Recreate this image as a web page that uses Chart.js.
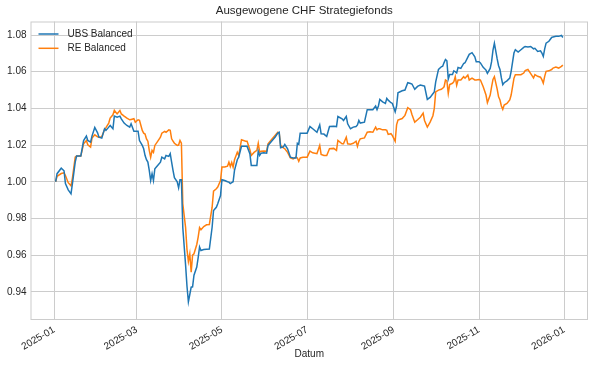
<!DOCTYPE html>
<html>
<head>
<meta charset="utf-8">
<script src="https://cdn.jsdelivr.net/npm/chart.js@4.4.1/dist/chart.umd.min.js"></script>
<style>
  html, body { margin: 0; padding: 0; background: #fff; }
  #wrap { width: 595px; height: 365px; }
</style>
</head>
<body>
<div id="wrap"><canvas id="fondsChart"></canvas></div>
<script>
// trading days, counted in days since 2025-01-01
const days = [
  1,2,5,7,8,10,12,13,15,16, 19,21,23,24,26,27,29,31,32,34,
  36,37,39,40,42,43,45,47,48,50, 52,54,55,57,58,60,61,63,64,65,
  66,67,68,69,70,71,72,74,76,77, 79,80,82,83,84,85,86,88,89,90,
  91,92,94,95,96,97,98,99,100,102, 103,104,105,107,109,111,113,114,116,117,
  119,120,122,124,125,126,127,128,129,131, 132,134,137,138,140,141,143,145,146,147,
  148,150,152,153,156,158,160,161,162,164, 165,167,169,171,173,174,175,176,178,181,
  183,185,188,190,191,193,195,197,200,202, 203,206,207,209,210,212,214,216,217,218,
  219,222,224,226,228,230,231,232,233,235, 237,238,239,241,242,244,245,246,249,251,
  253,255,256,258,260,262,264,265,267,269, 271,272,273,275,277,278,279,280,281,282,
  283,285,286,287,288,289,291,293,294,296, 297,299,301,302,304,305,307,309,310,312,
  313,314,315,317,318,319,320,321,322,324, 326,327,329,330,332,334,336,337,339,341,
  343,344,346,348,349,350,351,352,354,356, 357,359,361,363,364
];

// indexed values (start = 1.0)
const ubsBalanced = [
  1.000,1.0044,1.0074,1.006,0.999,0.9956,0.9934,0.999,1.0107,1.014,
  1.014,1.0225,1.0249,1.0225,1.0216,1.0249,1.0296,1.0267,1.0243,1.0238,
  1.0289,1.028,1.0298,1.0307,1.0289,1.0358,1.0352,1.0358,1.0343,1.032,
  1.0307,1.0298,1.0316,1.0276,1.0276,1.0276,1.0225,1.0198,1.018,1.0143,
  1.012,1.0107,1.0062,1.0007,1.0044,1.0007,1.0071,1.0089,1.0107,1.0134,
  1.0125,1.0143,1.0138,1.0153,1.0107,1.0062,1.0022,1.0,0.9967,1.0011,
  1.0011,0.975,0.9545,0.943,0.9345,0.9385,0.9425,0.9427,0.949,0.9535,
  0.9586,0.9644,0.9625,0.963,0.9632,0.9633,0.9753,0.9843,0.9861,0.988,
  0.9925,1.0011,1.0007,1.000,0.9998,0.999,0.9995,1.000,1.0062,1.012,
  1.0134,1.0193,1.0193,1.0193,1.0153,1.0089,1.0089,1.0089,1.0167,1.0143,
  1.0156,1.0158,1.0156,1.0198,1.0225,1.0243,1.0265,1.027,1.0185,1.019,
  1.0203,1.018,1.0134,1.013,1.013,1.021,1.0205,1.0265,1.0265,1.0265,
  1.0301,1.0289,1.027,1.031,1.0262,1.026,1.0247,1.0301,1.0303,1.0301,
  1.0356,1.0343,1.0334,1.0356,1.0316,1.0289,1.0298,1.0301,1.031,1.0334,
  1.032,1.0325,1.0393,1.0393,1.0393,1.0413,1.0393,1.0413,1.0449,1.0436,
  1.0427,1.0455,1.0445,1.0431,1.0427,1.0382,1.0413,1.0485,1.0496,1.05,
  1.054,1.0536,1.0533,1.0504,1.052,1.0527,1.0524,1.0522,1.0449,1.046,
  1.048,1.049,1.0545,1.0613,1.0627,1.063,1.065,1.0667,1.066,1.056,
  1.0585,1.0585,1.0605,1.06,1.0594,1.0623,1.0618,1.0645,1.0649,1.068,
  1.0695,1.0704,1.0682,1.0655,1.0655,1.0648,1.0624,1.0609,1.0591,1.0618,
  1.0655,1.0718,1.0755,1.067,1.0633,1.0612,1.0566,1.0529,1.054,1.055,
  1.0565,1.0602,1.0702,1.072,1.0707,1.072,1.0733,1.0738,1.0735,1.0738,
  1.0725,1.0728,1.0711,1.0714,1.0702,1.0684,1.0725,1.0756,1.0766,1.0787,
  1.079,1.0793,1.0793,1.0798,1.0787
];

const reBalanced = [
  1.000,1.003,1.0045,1.0049,1.0034,0.9995,0.9978,1.002,1.0134,1.014,
  1.014,1.0207,1.0225,1.0202,1.0189,1.0238,1.0256,1.0245,1.0243,1.0245,
  1.0285,1.0295,1.032,1.0347,1.0365,1.0389,1.037,1.0389,1.037,1.0358,
  1.0347,1.0338,1.034,1.0344,1.0325,1.0338,1.0335,1.028,1.0265,1.026,
  1.0234,1.0221,1.0171,1.0134,1.0171,1.016,1.0198,1.022,1.0243,1.0265,
  1.0275,1.027,1.0283,1.028,1.0234,1.0222,1.021,1.0198,1.020,1.0225,
  1.021,0.988,0.975,0.963,0.9565,0.9607,0.9507,0.96,0.9607,0.9658,
  0.9698,0.975,0.9738,0.9756,0.9765,0.9767,0.9861,0.9949,0.9962,0.9971,
  1.0007,1.008,1.008,1.0085,1.0107,1.0083,1.0105,1.008,1.012,1.0161,
  1.0143,1.0229,1.0221,1.0221,1.0175,1.0143,1.016,1.0171,1.021,1.0161,
  1.0167,1.0168,1.0167,1.0207,1.0234,1.0252,1.027,1.0265,1.0198,1.0185,
  1.018,1.016,1.013,1.0125,1.0134,1.013,1.0112,1.013,1.0134,1.0134,
  1.0167,1.0158,1.0153,1.0198,1.0149,1.0143,1.0143,1.018,1.0182,1.0171,
  1.0225,1.0207,1.0207,1.0243,1.0207,1.0205,1.021,1.0221,1.0193,1.022,
  1.0234,1.0239,1.027,1.0272,1.027,1.0298,1.0283,1.0289,1.0289,1.0283,
  1.0283,1.028,1.0258,1.0262,1.0252,1.0221,1.031,1.0336,1.0345,1.0362,
  1.0404,1.0393,1.0367,1.0325,1.0338,1.0352,1.0374,1.0334,1.0298,1.0325,
  1.036,1.040,1.049,1.050,1.0504,1.051,1.0518,1.0555,1.055,1.0482,
  1.053,1.0537,1.0546,1.0573,1.0527,1.0555,1.0555,1.0573,1.0565,1.0582,
  1.0555,1.0565,1.0555,1.0555,1.0558,1.0555,1.0518,1.0473,1.0431,1.0473,
  1.0518,1.0558,1.0573,1.0505,1.0463,1.0446,1.0413,1.0395,1.0418,1.0427,
  1.0446,1.0473,1.0564,1.0584,1.0584,1.0584,1.0593,1.0606,1.0612,1.059,
  1.0566,1.0584,1.0575,1.057,1.0557,1.0538,1.0575,1.0602,1.0605,1.0612,
  1.062,1.0625,1.062,1.0629,1.0636
];

// x ticks: first day of every second month
const tickDays = [0, 59, 120, 181, 243, 304, 365];
const tickLabels = ['2025-01', '2025-03', '2025-05', '2025-07', '2025-09', '2025-11', '2026-01'];
const yTicks = [0.94, 0.96, 0.98, 1.00, 1.02, 1.04, 1.06, 1.08];
const chartTitle = 'Ausgewogene CHF Strategiefonds';

const FONT = '"Liberation Sans", Arial, sans-serif';
const TEXT = '#262626';
const GRID = '#cccccc';

const toPoints = vals => vals.map((v, i) => ({ x: days[i], y: v }));

// title above the plot area
const axesTitle = {
  id: 'axesTitle',
  afterDraw(chart) {
    const a = chart.chartArea;
    const ctx = chart.ctx;
    ctx.save();
    ctx.font = '11.5px ' + FONT;
    ctx.fillStyle = TEXT;
    ctx.textAlign = 'center';
    ctx.textBaseline = 'middle';
    ctx.fillText(chartTitle, (a.left + a.right) / 2 - 5, 10.5);
    ctx.restore();
  }
};

// legend drawn inside the plot, top left, no box
const innerLegend = {
  id: 'innerLegend',
  afterDatasetsDraw(chart) {
    const ctx = chart.ctx;
    const area = chart.chartArea;
    ctx.save();
    ctx.font = '10px ' + FONT;
    ctx.textBaseline = 'middle';
    chart.data.datasets.forEach((ds, i) => {
      const y = area.top + 12.5 + i * 14.3;
      const x0 = area.left + 8;
      ctx.strokeStyle = ds.borderColor;
      ctx.lineWidth = 1.5;
      ctx.beginPath();
      ctx.moveTo(x0, y);
      ctx.lineTo(x0 + 20, y);
      ctx.stroke();
      ctx.fillStyle = TEXT;
      ctx.fillText(ds.label, x0 + 29, y);
    });
    ctx.restore();
  }
};

// light frame round the plot area
const frame = {
  id: 'frame',
  beforeDatasetsDraw(chart) {
    const a = chart.chartArea;
    const ctx = chart.ctx;
    ctx.save();
    ctx.strokeStyle = GRID;
    ctx.lineWidth = 1;
    ctx.strokeRect(a.left + 0.5, a.top + 0.5, a.right - a.left - 1, a.bottom - a.top - 1);
    ctx.restore();
  }
};

new Chart(document.getElementById('fondsChart'), {
  type: 'line',
  data: {
    datasets: [
      { label: 'UBS Balanced', data: toPoints(ubsBalanced), borderColor: '#1f77b4', borderWidth: 1.5, pointRadius: 0, tension: 0 },
      { label: 'RE Balanced', data: toPoints(reBalanced), borderColor: '#ff7f0e', borderWidth: 1.5, pointRadius: 0, tension: 0 }
    ]
  },
  options: {
    responsive: true,
    maintainAspectRatio: false,
    animation: false,
    layout: { padding: { left: 0, right: 7, top: 21.5, bottom: 0 } },
    plugins: {
      legend: { display: false },
      tooltip: { enabled: false },
      title: { display: false }
    },
    scales: {
      x: {
        type: 'linear',
        min: -17,
        max: 382,
        afterBuildTicks: scale => { scale.ticks = tickDays.map(v => ({ value: v })); },
        afterFit: scale => { scale.height = 45; },
        grid: { color: GRID, lineWidth: 1, drawTicks: false },
        border: { display: false },
        ticks: {
          autoSkip: false,
          minRotation: 30,
          maxRotation: 30,
          padding: 4,
          color: TEXT,
          font: { family: FONT, size: 10 },
          callback: v => tickLabels[tickDays.indexOf(v)] || ''
        },
        title: {
          display: true,
          text: 'Datum',
          color: TEXT,
          font: { family: FONT, size: 10 },
          padding: { top: 0, bottom: 5 }
        }
      },
      y: {
        min: 0.9246,
        max: 1.0874,
        afterBuildTicks: scale => { scale.ticks = yTicks.map(v => ({ value: v })); },
        afterFit: scale => { scale.width = 30.5; },
        grid: { color: GRID, lineWidth: 1, drawTicks: false },
        border: { display: false },
        ticks: {
          padding: 4,
          color: TEXT,
          font: { family: FONT, size: 10 },
          callback: v => v.toFixed(2)
        }
      }
    }
  },
  plugins: [frame, innerLegend, axesTitle]
});
</script>
</body>
</html>
